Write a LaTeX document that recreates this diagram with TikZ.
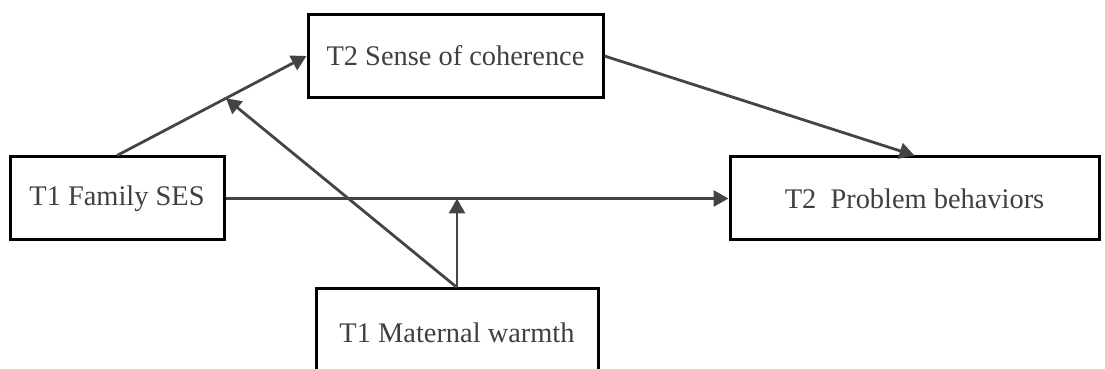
\documentclass[tikz,border=0pt]{standalone}
\usepackage{fontspec}
\setmainfont{Liberation Serif}
\usetikzlibrary{arrows.meta, calc}
\definecolor{txtgray}{HTML}{404040}
\definecolor{linegray}{HTML}{444444}

\begin{document}
\begin{tikzpicture}[x=0.5pt, y=0.5pt,
    box/.style={draw=black, line width=1.5pt, inner sep=0pt, minimum height=41.5pt,
        text=txtgray, font=\fontsize{14.2pt}{17pt}\selectfont},
    link/.style={draw=linegray, line width=1.4pt, -{Triangle[length=7.5pt, width=8pt]}}]
    \useasboundingbox (0,0) rectangle (1105,369);

    % boxes
    \node[box, minimum width=147.5pt] (coherence) at (455.5,313) {T2 Sense of coherence};
    \node[box, minimum width=107pt] (ses) at (117,170.5) {T1 Family SES};
    \node[box, minimum width=184.5pt] (problem) at (914.5,170.5) {T2\ \ Problem behaviors};
    \node[box, minimum width=141pt, minimum height=43.5pt] (warmth) at (457,36.5) {T1 Maternal warmth};

    % moderation points
    \coordinate (modA) at ($(ses.north)!0.575!(coherence.west)$);
    \coordinate (modB) at (ses.east -| warmth.north);

    % paths
    \draw[link] (ses.north) -- (coherence.west);
    \draw[link] (coherence.east) -- (problem.north);
    \draw[link] (ses.east) -- (problem.west);
    \draw[link] (warmth.north) -- (modA);
    \draw[link] (warmth.north) -- (modB);
\end{tikzpicture}
\end{document}
